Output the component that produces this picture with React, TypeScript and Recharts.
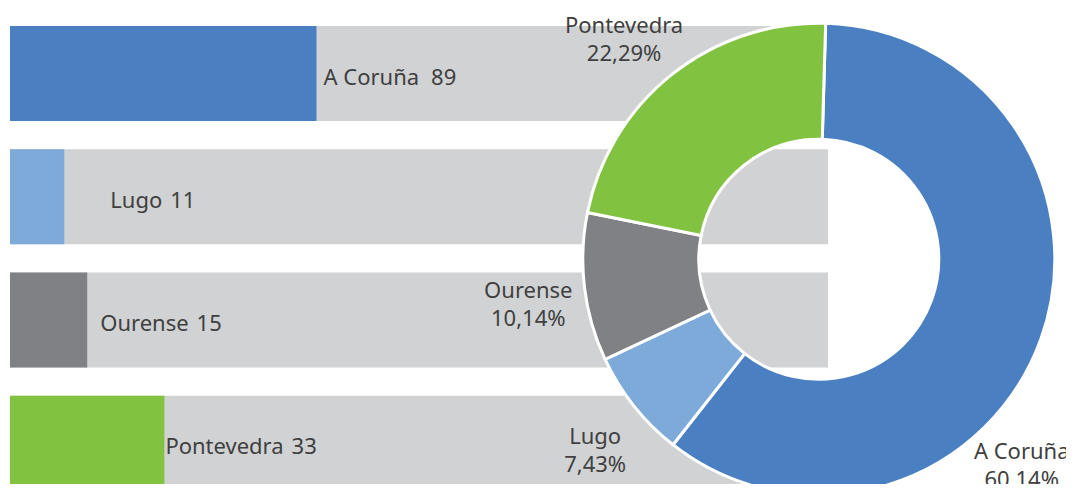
import React from 'react';
import { BarChart, Bar, XAxis, YAxis, Cell, LabelList, PieChart, Pie } from 'recharts';

// ---- data ----
const categories = ['A Coruña', 'Lugo', 'Ourense', 'Pontevedra'];
const counts = [89, 11, 15, 33];
const percentLabels = ['60,14%', '7,43%', '10,14%', '22,29%'];

// ---- style ----
const COLORS = ['#4A80C1', '#7EAADA', '#808184', '#82C241'];
const TRACK = '#D1D2D4';
const TEXT = '#3F3F3F';
const FONT = '"Noto Sans", "Open Sans", sans-serif';
const FS = 22;

const W = 1066;
const H = 510;

// horizontal offset of each bar label from the end of its bar (px)
const BAR_LABEL_GAP = [7, 46, 13, 1];
const BAR_VALUE_DX = [12, 8, 8, 8];
// angular nudge (degrees, counter-clockwise) and radial distance beyond the ring for each donut label
const PIE_LABEL_SHIFT = [-25.5, 2, 2, 3];
const PIE_LABEL_DIST = [53, 58, 58, 58];

const data = categories.map((name, i) => ({ name, value: counts[i], pct: percentLabels[i] }));

const BarValueLabel = (props: any) => {
  const vb = props.viewBox || {};
  const x = props.x ?? vb.x;
  const y = props.y ?? vb.y;
  const width = props.width ?? vb.width;
  const height = props.height ?? vb.height;
  let index = props.index;
  if (index == null) index = data.findIndex((d) => d.value === props.value);
  const d = data[index];
  if (!d) return null;
  return (
    <text
      x={x + width + BAR_LABEL_GAP[index]}
      y={y + height / 2 + 2}
      dominantBaseline="central"
      fontSize={FS}
      fill={TEXT}
      fontFamily={FONT}
    >
      {d.name}
      <tspan dx={BAR_VALUE_DX[index]}>{d.value}</tspan>
    </text>
  );
};

const RAD = Math.PI / 180;

const PieLabel = (props: any) => {
  const { cx, cy, midAngle, outerRadius, index } = props;
  const d = data[index];
  if (!d) return null;
  const a = (midAngle + PIE_LABEL_SHIFT[index]) * RAD;
  const r = outerRadius + PIE_LABEL_DIST[index];
  const x = cx + r * Math.cos(a);
  const y = cy - r * Math.sin(a);
  return (
    <text textAnchor="middle" fontSize={FS} fill={TEXT} fontFamily={FONT}>
      <tspan x={x} y={y - 6}>{d.name}</tspan>
      <tspan x={x} y={y + 22}>{d.pct}</tspan>
    </text>
  );
};

export default function App() {
  return (
    <div style={{ position: 'relative', width: W, height: 484, overflow: 'hidden', marginBottom: -8 }}>
      <div style={{ position: 'absolute', left: 0, top: 0 }}>
        <BarChart
          width={W}
          height={H}
          data={data}
          layout="vertical"
          margin={{ top: 4, right: 246, bottom: 13, left: 2 }}
        >
          <XAxis type="number" hide scale="sqrt" domain={[4, 477]} allowDataOverflow />
          <YAxis type="category" dataKey="name" hide width={0} />
          <Bar
            dataKey="value"
            barSize={95}
            background={{ fill: TRACK }}
            isAnimationActive={false}
          >
            {data.map((d, i) => (
              <Cell key={d.name} fill={COLORS[i]} />
            ))}
            <LabelList dataKey="value" content={BarValueLabel} />
          </Bar>
        </BarChart>
      </div>
      <div style={{ position: 'absolute', left: 0, top: 0 }}>
        <PieChart width={W} height={H} margin={{ top: 0, right: 0, bottom: 0, left: 0 }}>
          <Pie
            data={data}
            dataKey="value"
            nameKey="name"
            cx={810.8}
            cy={251.2}
            innerRadius={120}
            outerRadius={236}
            startAngle={88.34}
            endAngle={-271.66}
            stroke="#FFFFFF"
            strokeWidth={3}
            label={PieLabel}
            labelLine={false}
            isAnimationActive={false}
          >
            {data.map((d, i) => (
              <Cell key={d.name} fill={COLORS[i]} />
            ))}
          </Pie>
        </PieChart>
      </div>
    </div>
  );
}
